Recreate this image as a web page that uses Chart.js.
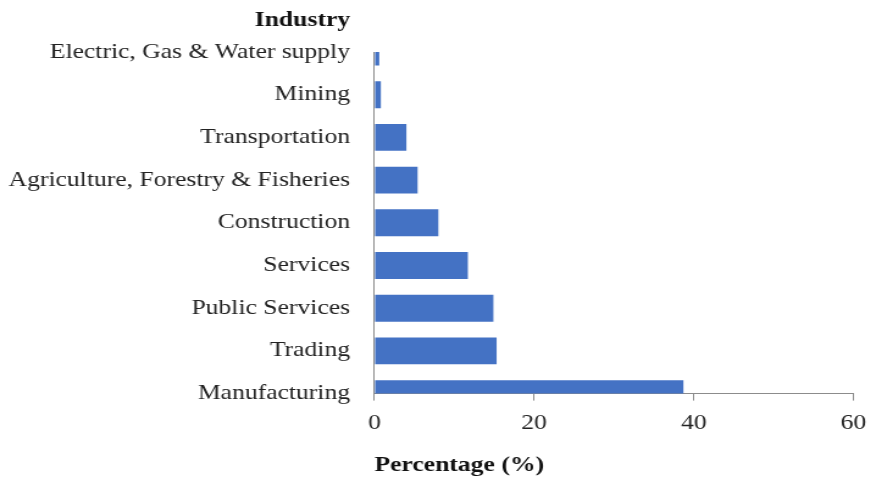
<!DOCTYPE html>
<html>
<head>
<meta charset="utf-8">
<script src="https://cdn.jsdelivr.net/npm/chart.js@4"></script>
<style>
  html, body { margin: 0; padding: 0; background: #fff; overflow: hidden; }
  /* the reference type is wide, so the whole drawing is stretched sideways */
  #wrap { width: 720px; height: 482px; transform: scaleX(1.22); transform-origin: 0 0; }
</style>
</head>
<body>
<div id="wrap"><canvas id="industryChart"></canvas></div>
<script>
const industries = [
  'Electric, Gas & Water supply',
  'Mining',
  'Transportation',
  'Agriculture, Forestry & Fisheries',
  'Construction',
  'Services',
  'Public Services',
  'Trading',
  'Manufacturing'
];
const shares = [0.6, 0.8, 4.0, 5.4, 8.0, 11.7, 14.9, 15.3, 38.7];
const xTicks = [0, 20, 40, 60];

const serif = "'Liberation Serif', 'Times New Roman', serif";

// writes the "Industry" heading above the category labels
const headingPlugin = {
  id: 'heading',
  afterDraw(chart) {
    const ctx = chart.ctx;
    const y = chart.scales.y;
    ctx.save();
    ctx.font = 'bold 21px ' + serif;
    ctx.fillStyle = '#111';
    ctx.textAlign = 'right';
    ctx.textBaseline = 'middle';
    ctx.fillText('Industry', y.right - 20, 21);
    ctx.restore();
  }
};

document.addEventListener('DOMContentLoaded', function () {
  const canvas = document.getElementById('industryChart');

  new Chart(canvas, {
    type: 'bar',
    data: {
      labels: industries,
      datasets: [{
        label: 'Percentage',
        data: shares,
        backgroundColor: '#4472C4',
        barPercentage: 0.63,
        categoryPercentage: 1
      }]
    },
    options: {
      indexAxis: 'y',
      responsive: true,
      maintainAspectRatio: false,
      animation: false,
      layout: { padding: { top: 52, right: 0, left: -5, bottom: 4 } },
      plugins: {
        legend: { display: false },
        tooltip: { enabled: false }
      },
      scales: {
        x: {
          min: 0,
          max: 60,
          afterBuildTicks: (axis) => { axis.ticks = xTicks.map(v => ({ value: v })); },
          grid: { drawOnChartArea: false, drawTicks: true, tickLength: 7, color: '#8c8c8c' },
          border: { color: '#8c8c8c' },
          ticks: { color: '#222', font: { family: serif, size: 21 }, padding: 10 },
          title: {
            display: true,
            text: 'Percentage (%)',
            align: 'start',
            color: '#111',
            font: { family: serif, size: 21, weight: 'bold' },
            padding: { top: 7, bottom: 0 }
          }
        },
        y: {
          offset: false,
          grid: { display: false },
          border: { color: '#8c8c8c' },
          ticks: { color: '#222', font: { family: serif, size: 21 }, padding: 12, autoSkip: false }
        }
      }
    },
    plugins: [headingPlugin]
  });
});
</script>
</body>
</html>
